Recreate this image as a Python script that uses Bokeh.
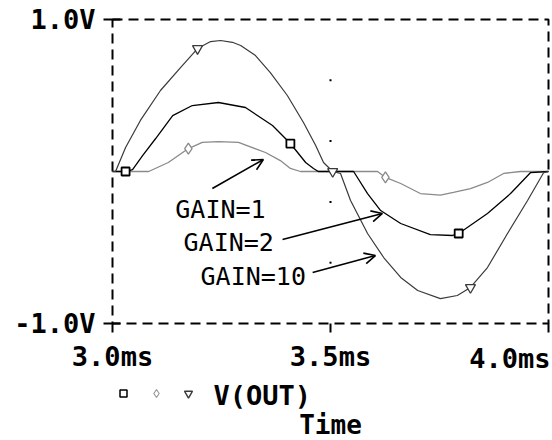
from bokeh.plotting import figure
from bokeh.models import Range1d, FixedTicker, Label, Arrow, OpenHead
from bokeh.embed import file_html
from bokeh.resources import INLINE

# ---- data (time in ms, voltage in V) ----
t_gain10 = [3.000, 3.007, 3.030, 3.064, 3.110, 3.156, 3.195, 3.225, 3.248, 3.275, 3.294, 3.328,
            3.362, 3.401, 3.438, 3.466, 3.484, 3.505, 3.523, 3.546, 3.585, 3.622, 3.661, 3.700,
            3.752, 3.791, 3.821, 3.860, 3.906, 3.952, 3.989, 4.000]
v_gain10 = [0.0, 0.0, 0.158, 0.336, 0.533, 0.684, 0.809, 0.855, 0.862, 0.850, 0.829, 0.763,
            0.651, 0.500, 0.322, 0.171, 0.059, 0.0, -0.013, -0.191, -0.408, -0.566, -0.697, -0.783,
            -0.836, -0.816, -0.763, -0.632, -0.408, -0.191, -0.007, 0.0]

t_gain2 = [3.000, 3.030, 3.046, 3.069, 3.099, 3.138, 3.183, 3.243, 3.305, 3.367, 3.408, 3.443,
           3.461, 3.472, 3.553, 3.585, 3.615, 3.661, 3.729, 3.780, 3.794, 3.860, 3.913, 3.959, 4.000]
v_gain2 = [0.0, 0.0, 0.013, 0.105, 0.217, 0.368, 0.434, 0.454, 0.421, 0.303, 0.184, 0.059,
           0.020, 0.0, 0.0, -0.145, -0.257, -0.342, -0.415, -0.421, -0.408, -0.276, -0.145, -0.007, 0.0]

t_gain1 = [3.000, 3.083, 3.128, 3.174, 3.206, 3.243, 3.289, 3.351, 3.385, 3.408, 3.431, 3.608,
           3.626, 3.661, 3.706, 3.752, 3.782, 3.821, 3.860, 3.897, 3.936, 4.000]
v_gain1 = [0.0, 0.0, 0.059, 0.151, 0.191, 0.197, 0.191, 0.125, 0.072, 0.020, 0.0, 0.0,
           -0.039, -0.079, -0.145, -0.155, -0.138, -0.112, -0.072, -0.013, 0.0, 0.0]

# symbol markers placed on the traces
mk10_t = [3.195, 3.505, 3.821]
mk10_v = [0.809, 0.0, -0.763]
mk2_t = [3.030, 3.408, 3.794]
mk2_v = [0.0, 0.184, -0.408]
mk1_t = [3.174, 3.626]
mk1_v = [0.151, -0.039]

# grid dots on the 3.5 ms line
grid_t = [3.5, 3.5, 3.5, 3.5]
grid_v = [0.6, 0.2, -0.2, -0.6]

# ticks
x_ticks = [3.0, 3.5, 4.0]
x_tick_labels = ["3.0ms", "3.5ms", "4.0ms"]
y_ticks = [-1.0, 1.0]
y_tick_labels = ["-1.0V", "1.0V"]

# annotation labels and arrows (label pos, arrow start -> end)
gain_labels = ["GAIN=1", "GAIN=2", "GAIN=10"]
gain_label_t = [3.144, 3.163, 3.202]
gain_label_v = [-0.253, -0.464, -0.694]
arrow_t0 = [3.229, 3.390, 3.459]
arrow_v0 = [-0.112, -0.447, -0.664]
arrow_t1 = [3.346, 3.619, 3.603]
arrow_v1 = [0.079, -0.276, -0.553]

legend_text = "V(OUT)"
x_title = "Time"

FONT = "DejaVu Sans Mono"
W, H = 552, 440
# pixel box of the plotting area inside the canvas
BL, BR, BT, BB = 112, 548, 19, 323
XMIN, XMAX = x_ticks[0], x_ticks[-1]
YMIN, YMAX = y_ticks[0], y_ticks[-1]
PX_PER_X = (BR - BL) / (XMAX - XMIN)
PX_PER_Y = (BB - BT) / (YMAX - YMIN)

p = figure(width=W, height=H, output_backend="svg", toolbar_location=None,
           x_range=Range1d(XMIN - BL / PX_PER_X, XMAX + (W - BR) / PX_PER_X),
           y_range=Range1d(YMIN - (H - BB) / PX_PER_Y, YMAX + BT / PX_PER_Y),
           min_border=0)
p.background_fill_color = "white"
p.border_fill_color = "white"
p.outline_line_color = None
p.grid.visible = False

# axes pinned to the edges of the dashed box
p.yaxis.fixed_location = XMIN
p.yaxis.ticker = FixedTicker(ticks=y_ticks)
p.yaxis.major_label_overrides = {t: s for t, s in zip(y_ticks, y_tick_labels)}
p.yaxis.axis_line_color = None
p.yaxis.major_tick_out = 9
p.yaxis.major_tick_in = 8
p.yaxis.major_tick_line_width = 2
p.yaxis.minor_tick_line_color = None
p.yaxis.major_label_standoff = 8
p.yaxis.major_label_text_font = FONT
p.yaxis.major_label_text_font_style = "bold"
p.yaxis.major_label_text_font_size = "27px"
p.yaxis.major_label_text_color = "black"

p.xaxis.fixed_location = YMIN
p.xaxis.ticker = FixedTicker(ticks=x_ticks)
p.xaxis.major_label_overrides = {x_ticks[0]: x_tick_labels[0], x_ticks[1]: x_tick_labels[1], x_ticks[2]: ""}
p.xaxis.axis_line_color = None
p.xaxis.major_tick_out = 9
p.xaxis.major_tick_in = 0
p.xaxis.major_tick_line_width = 2
p.xaxis.minor_tick_line_color = None
p.xaxis.major_label_standoff = 8
p.xaxis.major_label_text_font = FONT
p.xaxis.major_label_text_font_style = "bold"
p.xaxis.major_label_text_font_size = "27px"
p.xaxis.major_label_text_color = "black"

# dashed box
p.line([XMIN, XMAX, XMAX, XMIN, XMIN], [YMAX, YMAX, YMIN, YMIN, YMAX],
       line_color="black", line_width=2, line_dash="10 6")

# last tick label kept inside the canvas (right aligned to its tick)
p.add_layout(Label(x=x_ticks[2], y=YMIN, text=x_tick_labels[2], x_offset=2, y_offset=-35,
                   text_align="right", text_baseline="middle", text_font=FONT,
                   text_font_style="bold", text_font_size="27px", text_color="black"))

# grid dots
p.scatter(grid_t, grid_v, marker="square", size=2, color="black", line_width=0)

# traces
p.line(t_gain1, v_gain1, color="#8a8a8a", line_width=1.3)
p.line(t_gain2, v_gain2, color="black", line_width=1.3)
p.line(t_gain10, v_gain10, color="#3a3a3a", line_width=1.2)

p.scatter(mk1_t, mk1_v, marker="diamond", size=11, fill_color="white", line_color="#8a8a8a", line_width=1.3)
p.scatter(mk2_t, mk2_v, marker="square", size=8, fill_color="white", line_color="black", line_width=1.8)
p.scatter(mk10_t, mk10_v, marker="inverted_triangle", size=10, fill_color="white", line_color="#3a3a3a", line_width=1.3)

# gain labels and arrows
for s, tx, ty in zip(gain_labels, gain_label_t, gain_label_v):
    p.add_layout(Label(x=tx, y=ty, text=s, text_align="left", text_baseline="middle",
                       text_font=FONT, text_font_size="25px", text_color="black"))
for x0, y0, x1, y1 in zip(arrow_t0, arrow_v0, arrow_t1, arrow_v1):
    p.add_layout(Arrow(x_start=x0, y_start=y0, x_end=x1, y_end=y1, line_color="black", line_width=1.6,
                       end=OpenHead(size=11, line_color="black", line_width=1.6)))

# legend row below the axis: three symbols then the trace name
sx = [XMIN + 11 / PX_PER_X, XMIN + 44 / PX_PER_X, XMIN + 76 / PX_PER_X]
sy = YMIN - 70 / PX_PER_Y
p.scatter([sx[0]], [sy], marker="square", size=7, fill_color="white", line_color="black", line_width=1.5)
p.scatter([sx[1]], [sy], marker="diamond", size=8, fill_color="white", line_color="#9a9a9a", line_width=1.2)
p.scatter([sx[2]], [sy], marker="inverted_triangle", size=8, fill_color="white", line_color="#3a3a3a", line_width=1.4)
p.add_layout(Label(x=XMIN, y=YMIN, text=legend_text, x_offset=101, y_offset=-72,
                   text_align="left", text_baseline="middle", text_font=FONT,
                   text_font_style="bold", text_font_size="27px", text_color="black"))
p.add_layout(Label(x=x_ticks[1], y=YMIN, text=x_title, x_offset=0, y_offset=-101,
                   text_align="center", text_baseline="middle", text_font=FONT,
                   text_font_style="bold", text_font_size="26px", text_color="black"))

open("out.html", "w").write(file_html(p, INLINE))
